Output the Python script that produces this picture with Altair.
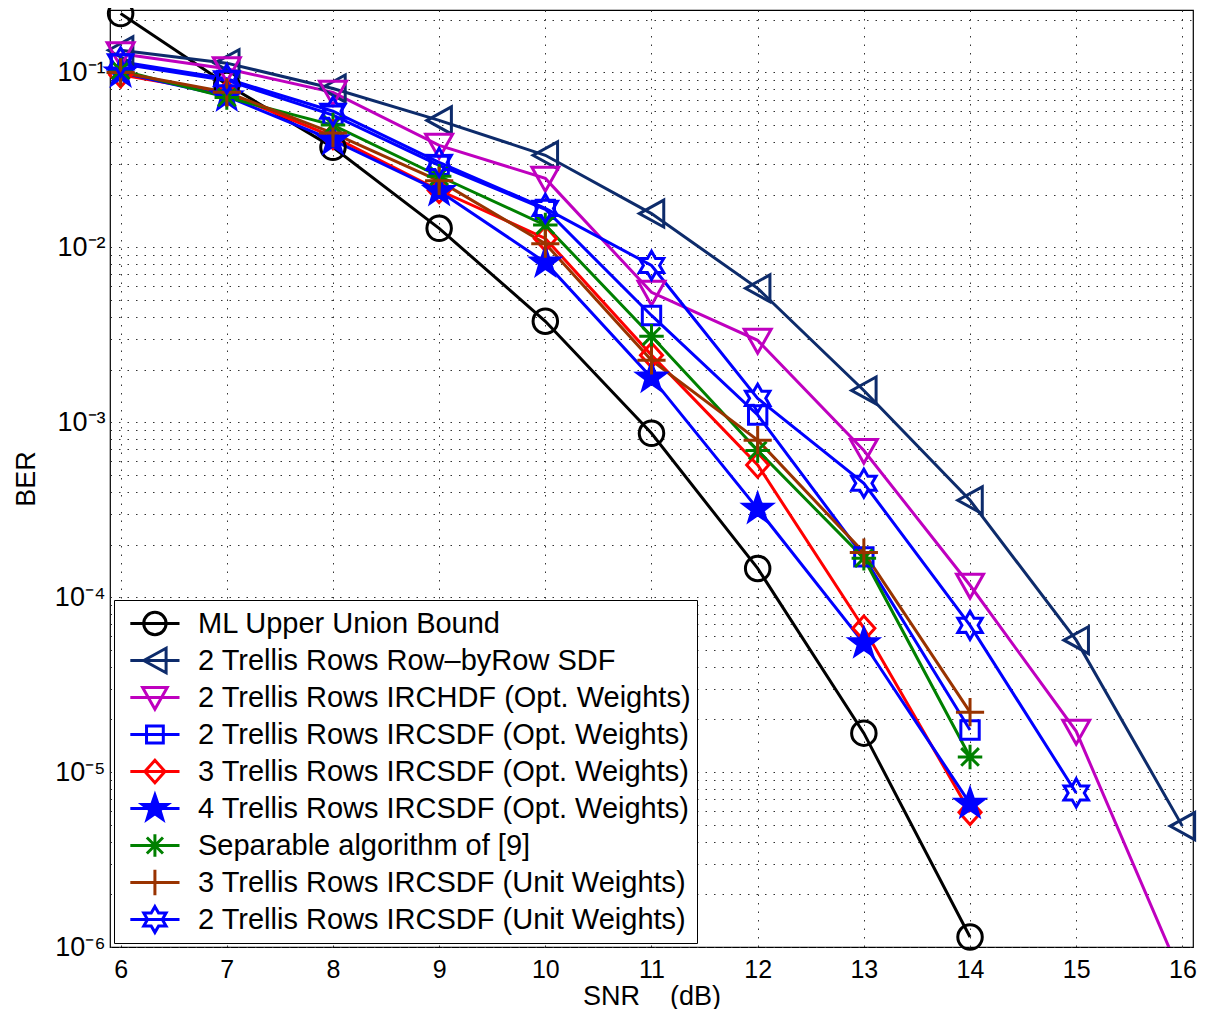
import math
import altair as alt
import pandas as pd

# ---------------- data ----------------
series_names = [
    "ML Upper Union Bound",
    "2 Trellis Rows Row\u2013byRow SDF",
    "2 Trellis Rows IRCHDF (Opt. Weights)",
    "2 Trellis Rows IRCSDF (Opt. Weights)",
    "3 Trellis Rows IRCSDF (Opt. Weights)",
    "4 Trellis Rows IRCSDF (Opt. Weights)",
    "Separable algorithm of [9]",
    "3 Trellis Rows IRCSDF (Unit Weights)",
    "2 Trellis Rows IRCSDF (Unit Weights)",
]
series_colors = ["#000000", "#0d2b6b", "#bf00bf", "#0000ff", "#ff0000",
                 "#0000ff", "#008000", "#993300", "#0000ff"]

snr_ml = [6, 7, 8, 9, 10, 11, 12, 13, 14]
ber_ml = [0.217, 0.0853, 0.0373, 0.01285, 0.00378, 8.65e-4, 1.46e-4, 1.67e-5, 1.14e-6]

snr_rbr = [6, 7, 8, 9, 10, 11, 12, 13, 14, 15, 16]
ber_rbr = [0.134, 0.113, 0.081, 0.0532, 0.0336, 0.0156, 0.00583, 0.00152, 3.58e-4, 5.68e-5, 4.91e-6]

snr_hdf = [6, 7, 8, 9, 10, 11, 12, 13, 14, 15, 16]
ber_hdf = [0.128, 0.105, 0.0769, 0.0383, 0.0248, 0.00553, 0.00294, 6.9e-4, 1.17e-4, 1.71e-5, 6.6e-7]

snr_2opt = [6, 7, 8, 9, 10, 11, 12, 13, 14]
ber_2opt = [0.112, 0.09, 0.057, 0.0294, 0.0165, 0.00408, 0.0011, 1.7e-4, 1.74e-5]

snr_3opt = [6, 7, 8, 9, 10, 11, 12, 13, 14]
ber_3opt = [0.097, 0.076, 0.043, 0.0212, 0.01125, 0.00242, 5.7e-4, 6.65e-5, 5.9e-6]

snr_4opt = [6, 7, 8, 9, 10, 11, 12, 13, 14]
ber_4opt = [0.1, 0.073, 0.041, 0.021, 0.0082, 0.0018, 3.2e-4, 5.45e-5, 6.6e-6]

snr_sep = [6, 7, 8, 9, 10, 11, 12, 13, 14]
ber_sep = [0.103, 0.072, 0.05, 0.0255, 0.0134, 0.0031, 6.9e-4, 1.67e-4, 1.22e-5]

snr_3unit = [6, 7, 8, 9, 10, 11, 12, 13, 14]
ber_3unit = [0.1, 0.077, 0.045, 0.024, 0.0105, 0.00226, 7.9e-4, 1.8e-4, 2.2e-5]

snr_2unit = [6, 7, 8, 9, 10, 11, 12, 13, 14, 15]
ber_2unit = [0.115, 0.092, 0.06, 0.0306, 0.0167, 0.00788, 0.00137, 4.48e-4, 6.9e-5, 7.6e-6]

x_ticks = [6, 7, 8, 9, 10, 11, 12, 13, 14, 15, 16]

all_snr = [snr_ml, snr_rbr, snr_hdf, snr_2opt, snr_3opt, snr_4opt, snr_sep, snr_3unit, snr_2unit]
all_ber = [ber_ml, ber_rbr, ber_hdf, ber_2opt, ber_3opt, ber_4opt, ber_sep, ber_3unit, ber_2unit]

rows = []
for i, (name, xs, ys) in enumerate(zip(series_names, all_snr, all_ber)):
    for x, y in zip(xs, ys):
        rows.append({"series": name, "idx": i, "snr": x, "ber": y})
df = pd.DataFrame(rows)

# ---------------- marker shapes (unit box, r = 1) ----------------
def poly(pts, dx=0.0):
    return "M" + "L".join(f"{x + dx:.3f},{y:.3f}" for x, y in pts) + "Z"

def star_pts(n, ro, ri):
    pts = []
    for k in range(2 * n):
        r = ro if k % 2 == 0 else ri
        a = math.radians(-90 + k * 180.0 / n)
        pts.append((r * math.cos(a), r * math.sin(a)))
    return pts

def marker(kind, dx=0.0):
    if kind == "circle":
        return (f"M{1 + dx},0A1,1,0,1,1,{-1 + dx},0A1,1,0,1,1,{1 + dx},0Z")
    if kind == "tri_left":
        return poly([(-1.0, 0), (1.0, -1.1), (1.0, 1.1)], dx)
    if kind == "tri_down":
        return poly([(-1.1, -0.9), (1.1, -0.9), (0, 1.05)], dx)
    if kind == "square":
        return poly([(-0.75, -0.75), (0.75, -0.75), (0.75, 0.75), (-0.75, 0.75)], dx)
    if kind == "diamond":
        return poly([(0, -1.0), (0.9, 0), (0, 1.0), (-0.9, 0)], dx)
    if kind == "pentagram":
        return poly(star_pts(5, 1.2, 0.48), dx)
    if kind == "asterisk":
        d = 0.72
        return (f"M{dx},-1L{dx},1M{-1 + dx},0L{1 + dx},0"
                f"M{-d + dx},{-d}L{d + dx},{d}M{-d + dx},{d}L{d + dx},{-d}")
    if kind == "plus":
        return f"M{dx},-1.15L{dx},1.15M{-1.15 + dx},0L{1.15 + dx},0"
    if kind == "hexagram":
        return poly(star_pts(6, 1.15, 0.66), dx)

kinds = ["circle", "tri_left", "tri_down", "square", "diamond",
         "pentagram", "asterisk", "plus", "hexagram"]
fills = ["transparent"] * 9
fills[5] = "#0000ff"

point_paths = [marker(k) for k in kinds]
legend_paths = ["M-1,0L3.4,0" + marker(k, 1.2) for k in kinds]

# ---------------- scales / axes ----------------
y_vals = []
for e in range(-6, 0):
    for m in range(1, 10):
        y_vals.append(float(f"{m}e{e}"))
y_vals.append(0.2)

FONT = "Liberation Sans"

x_enc = alt.X("snr:Q",
              scale=alt.Scale(domain=[5.9, 16.1], nice=False, zero=False),
              axis=alt.Axis(values=x_ticks, title="SNR\u00a0\u00a0\u00a0\u00a0(dB)",
                            labelFont=FONT, labelFontSize=25, labelColor="black",
                            titleFont=FONT, titleFontSize=27, titleFontWeight="normal",
                            titleColor="black", labelFlush=False,
                            grid=True, gridDash=[1.5, 7], gridColor="#333",
                            gridWidth=1, ticks=False, domain=False,
                            labelPadding=10, titlePadding=1))

label_expr = ("abs(log(datum.value)/LN10 - round(log(datum.value)/LN10)) < 0.01 ? "
              "'10\u207b' + ['\u2070','\u00b9','\u00b2','\u00b3','\u2074','\u2075','\u2076']"
              "[-round(log(datum.value)/LN10)] : ''")

y_enc = alt.Y("ber:Q",
              scale=alt.Scale(type="log", domain=[1e-6, 0.2275], nice=False),
              axis=alt.Axis(values=y_vals, title="BER", labelExpr=label_expr,
                            labelFont=FONT, labelFontSize=27, labelColor="black",
                            labelOverlap=False, labelFlush=False,
                            titleFont=FONT, titleFontSize=27, titleFontWeight="normal",
                            titleColor="black",
                            grid=True, gridDash=[1.5, 7], gridColor="#333",
                            gridWidth=1, ticks=False, domain=False,
                            labelPadding=5, titlePadding=14))

base = alt.Chart(df)

lines = base.mark_line(strokeWidth=3, clip=True).encode(
    x=x_enc, y=y_enc,
    color=alt.Color("series:N", scale=alt.Scale(domain=series_names, range=series_colors),
                    legend=None),
    order="snr:Q",
)

points = base.transform_filter("datum.ber >= 1e-6").mark_point(
    opacity=1, strokeWidth=3, size=600).encode(
    x=x_enc, y=y_enc,
    shape=alt.Shape("series:N", scale=alt.Scale(domain=series_names, range=point_paths),
                    legend=None),
    stroke=alt.Stroke("series:N", scale=alt.Scale(domain=series_names, range=series_colors),
                      legend=None),
    fill=alt.Fill("series:N", scale=alt.Scale(domain=series_names, range=fills),
                  legend=None),
    order="idx:Q",
)

leg = alt.Legend(title=None, orient="bottom-left", offset=4, padding=5,
                 strokeColor="black", fillColor="white",
                 labelFont=FONT, labelFontSize=29, labelColor="black", labelLimit=1000,
                 symbolSize=500, symbolStrokeWidth=3, symbolOffset=8,
                 labelOffset=42, rowPadding=0, clipHeight=37)

legend_layer = base.transform_filter("datum.snr < 0").mark_point(
    opacity=1, strokeWidth=3).encode(
    x=x_enc, y=y_enc,
    shape=alt.Shape("series:N", scale=alt.Scale(domain=series_names, range=legend_paths),
                    legend=leg),
    stroke=alt.Stroke("series:N", scale=alt.Scale(domain=series_names, range=series_colors),
                      legend=leg),
    fill=alt.Fill("series:N", scale=alt.Scale(domain=series_names, range=fills),
                  legend=leg),
)

chart = alt.layer(lines, points, legend_layer).resolve_scale(
    shape="independent", stroke="independent", fill="independent", color="independent"
).properties(
    width=1083, height=937,
    autosize=alt.AutoSizeParams(type="none"),
    padding={"left": 102, "top": 2, "right": 5, "bottom": 62},
    background="white",
).configure_view(stroke="black", strokeWidth=1.2)

chart.save("out.html", embed_options={"renderer": "svg", "actions": False})
